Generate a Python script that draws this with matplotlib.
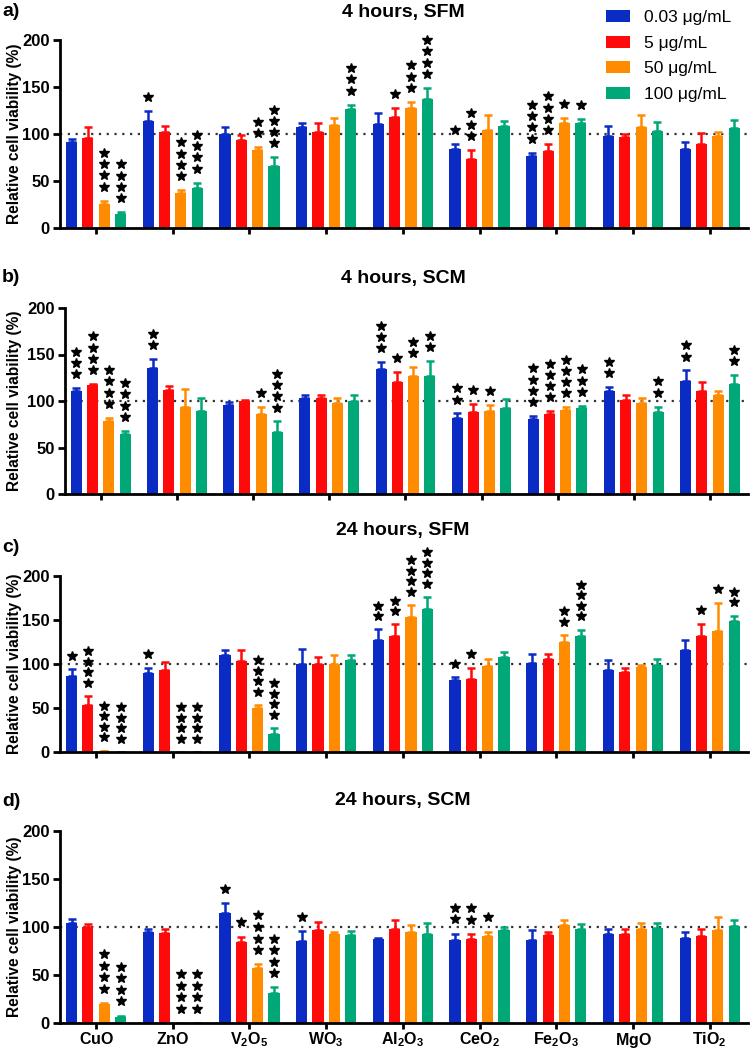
import numpy as np
import matplotlib
matplotlib.use("Agg")
import matplotlib.pyplot as plt
from matplotlib.patches import Patch

plt.rcParams['font.family'] = ['Liberation Sans', 'DejaVu Sans']
plt.rcParams['mathtext.fontset'] = 'custom'
plt.rcParams['mathtext.rm'] = 'Liberation Sans'
plt.rcParams['mathtext.bf'] = 'Liberation Sans:bold'

oxides = [r'$\mathbf{CuO}$', r'$\mathbf{ZnO}$', r'$\mathbf{V_2O_5}$', r'$\mathbf{WO_3}$',
          r'$\mathbf{Al_2O_3}$', r'$\mathbf{CeO_2}$', r'$\mathbf{Fe_2O_3}$',
          r'$\mathbf{MgO}$', r'$\mathbf{TiO_2}$']
conc_labels = ['0.03 μg/mL', '5 μg/mL', '50 μg/mL', '100 μg/mL']
colors = ['#0a2bc4', '#ff0a0a', '#ff8c00', '#00a878']
titles = ['4 hours, SFM', '4 hours, SCM', '24 hours, SFM', '24 hours, SCM']
letters = ['a)', 'b)', 'c)', 'd)']

# ---- panel a: 4 h SFM
a_mean_003 = [91.6, 113.7, 100, 107, 111, 84.5, 77, 98.4, 84.2]
a_sd_003 = [3, 11, 7, 4.5, 11.6, 4.5, 3, 10.3, 7.8]
a_mean_5 = [96, 102, 93.4, 102, 117.6, 73.5, 82, 97.3, 89.5]
a_sd_5 = [11, 7, 5.6, 9.5, 10.4, 9.5, 7, 3.2, 12]
a_mean_50 = [26, 37.7, 82.8, 110, 128, 104, 111.5, 107.6, 97.7]
a_sd_50 = [3, 2.3, 3.2, 7, 6, 16, 5, 12.4, 3.9]
a_mean_100 = [15, 42.6, 66, 126.8, 137, 109, 111.5, 103.7, 106]
a_sd_100 = [1.7, 5.4, 9, 4.2, 12, 5, 4.5, 8.9, 9]
a_stars = [[0, 1, 0, 0, 0, 1, 4, 0, 0],
           [0, 0, 0, 0, 1, 3, 4, 0, 0],
           [4, 4, 2, 0, 3, 0, 1, 0, 0],
           [4, 4, 4, 3, 4, 0, 1, 0, 0]]

# ---- panel b: 4 h SCM
b_mean_003 = [110.8, 135, 95.3, 103.6, 134.3, 82, 81, 110.5, 121.7]
b_sd_003 = [2.9, 9.8, 3.7, 2.9, 7.7, 4.6, 3, 4.5, 11.1]
b_mean_5 = [117.7, 112, 100, 103, 120, 87.7, 85.6, 101.4, 111]
b_sd_5 = [0.7, 4, 1, 3.5, 10.7, 8.7, 3.2, 4.6, 9]
b_mean_50 = [79, 94, 86, 98, 127.4, 88.8, 90, 98, 106]
b_sd_50 = [3, 18.6, 7.5, 5.6, 9.4, 6.5, 3.5, 5.6, 5]
b_mean_100 = [65, 88.8, 67, 100, 127.4, 92.4, 93, 88, 118.8]
b_sd_100 = [3, 14.2, 11, 6.5, 15.6, 10.1, 2, 6, 9.2]
b_stars = [[3, 2, 0, 0, 3, 2, 4, 2, 2],
           [4, 0, 0, 0, 1, 1, 4, 0, 0],
           [4, 0, 1, 0, 2, 1, 4, 0, 0],
           [4, 0, 4, 0, 2, 0, 3, 2, 2]]

# ---- panel c: 24 h SFM
c_mean_003 = [86, 90, 110.6, 100.4, 127.6, 81.4, 101.5, 93, 116]
c_sd_003 = [8.3, 5.8, 5.4, 17, 11.8, 3.4, 9.9, 12, 11.6]
c_mean_5 = [53, 93, 103.8, 100.4, 131.8, 82.6, 105.7, 90.5, 131.8]
c_sd_5 = [10.6, 9, 11.7, 7.6, 13.2, 13.4, 5.7, 4.5, 14]
c_mean_50 = [1.5, 0, 50, 100.4, 153.4, 97.3, 125, 96.6, 137.5]
c_sd_50 = [0, 0, 3.4, 9.6, 13.6, 8.4, 8, 2.4, 32.2]
c_mean_100 = [0, 0, 20.5, 104, 163, 108.3, 131.4, 98.5, 149]
c_sd_100 = [0, 0, 6.5, 6, 13, 5.3, 7.6, 7.2, 6]
c_stars = [[1, 1, 0, 0, 2, 1, 0, 0, 0],
           [4, 0, 0, 0, 2, 1, 0, 0, 1],
           [4, 4, 4, 0, 4, 0, 2, 0, 1],
           [4, 4, 4, 0, 4, 0, 4, 0, 2]]

# ---- panel d: 24 h SCM
d_mean_003 = [104, 95, 114.4, 85.6, 87.3, 86.3, 86.3, 92.5, 88.7]
d_sd_003 = [4.5, 3, 10.4, 10.1, 1.1, 6.9, 10.7, 5.5, 6.6]
d_mean_5 = [100.5, 94, 83.9, 97, 97.7, 87, 91.2, 92.5, 90.8]
d_sd_5 = [2.5, 3.7, 6.1, 7.7, 9.1, 5.5, 4.1, 4.9, 7.2]
d_mean_50 = [19.8, 0, 57.2, 92.2, 94.6, 90.5, 101.6, 97.4, 96.4]
d_sd_50 = [1, 0, 3.8, 3.1, 7, 4.8, 5.2, 6.6, 13.6]
d_mean_100 = [5.9, 0, 31.2, 91.2, 92.9, 97, 98, 98.8, 100.9]
d_sd_100 = [1.7, 0, 5.8, 4.8, 11.4, 2.5, 5, 5.2, 6.9]
d_stars = [[0, 0, 1, 1, 0, 2, 0, 0, 0],
           [0, 0, 1, 0, 0, 2, 0, 0, 0],
           [4, 4, 4, 0, 0, 1, 0, 0, 0],
           [4, 4, 4, 0, 0, 0, 0, 0, 0]]

panels = [
    ([a_mean_003, a_mean_5, a_mean_50, a_mean_100], [a_sd_003, a_sd_5, a_sd_50, a_sd_100], a_stars),
    ([b_mean_003, b_mean_5, b_mean_50, b_mean_100], [b_sd_003, b_sd_5, b_sd_50, b_sd_100], b_stars),
    ([c_mean_003, c_mean_5, c_mean_50, c_mean_100], [c_sd_003, c_sd_5, c_sd_50, c_sd_100], c_stars),
    ([d_mean_003, d_mean_5, d_mean_50, d_mean_100], [d_sd_003, d_sd_5, d_sd_50, d_sd_100], d_stars),
]

W, H = 750, 1050
fig = plt.figure(figsize=(W / 100, H / 100), dpi=100)

# axes rectangles in pixels: left, y of 0, y of 200, right
boxes = [(60, 228, 40, 748), (65, 494, 308, 748), (60, 752, 576, 748), (60, 1023, 831, 748)]
title_y = [12, 278, 530, 800]
letter_y = [12, 278, 548, 802]

x = np.arange(len(oxides))
off = 0.213
bw = 0.145
star_gap = 15
star_step = 12

for k, (means, sds, stars) in enumerate(panels):
    l, yb, yt, r = boxes[k]
    ax = fig.add_axes([l / W, 1 - yb / H, (r - l) / W, (yb - yt) / H])
    for j in range(4):
        xs = x + (j - 1.5) * off
        m = np.array(means[j])
        s = np.array(sds[j])
        ax.bar(xs, m, width=bw, color=colors[j], zorder=2)
        ax.errorbar(xs, m, yerr=[np.zeros_like(s), s], fmt='none', ecolor=colors[j],
                    elinewidth=1.8, capsize=3, capthick=1.8, zorder=2)
        for i in range(len(oxides)):
            n = stars[j][i]
            if n:
                ys = m[i] + s[i] + star_gap + star_step * np.arange(n)
                ax.plot([xs[i]] * n, ys, linestyle='none', marker='*', ms=7.5,
                        color='black', clip_on=False, zorder=3)
    ax.axhline(100, color='#333333', linestyle=(0, (1, 2.5)), linewidth=1.6, zorder=1)
    ax.set_xlim(-0.47, 8.5)
    ax.set_ylim(0, 200)
    ax.set_yticks([0, 50, 100, 150, 200])
    ax.set_xticks(x)
    if k == 3:
        ax.set_xticklabels(oxides, fontsize=11.5)
    else:
        ax.set_xticklabels([])
    for lab in ax.get_yticklabels():
        lab.set_fontweight('bold')
        lab.set_fontsize(12)
    ax.spines['top'].set_visible(False)
    ax.spines['right'].set_visible(False)
    ax.spines['left'].set_linewidth(2)
    ax.spines['bottom'].set_linewidth(2)
    ax.tick_params(axis='both', width=2, length=5, direction='out')
    ax.tick_params(axis='y', pad=2.5)
    ax.tick_params(axis='x', length=4, pad=1.5)
    ax.set_ylabel('Relative cell viability (%)', fontsize=11.2, fontweight='bold')
    ax.yaxis.set_label_coords(-(l - 22) / (r - l), 0.5)
    fig.text(403 / W, 1 - title_y[k] / H, titles[k], ha='center', va='center',
             fontsize=14, fontweight='bold')
    fig.text(2 / W, 1 - letter_y[k] / H, letters[k], ha='left', va='center',
             fontsize=14, fontweight='bold')

handles = [Patch(facecolor=c, edgecolor='none') for c in colors]
fig.legend(handles, conc_labels, loc='upper left', bbox_to_anchor=(594 / W, 1 + 2 / H),
           frameon=False, fontsize=12.5, handlelength=1.35, handleheight=0.7,
           labelspacing=0.6, handletextpad=0.85, borderpad=0.2)

fig.savefig('out.png', dpi=100)
